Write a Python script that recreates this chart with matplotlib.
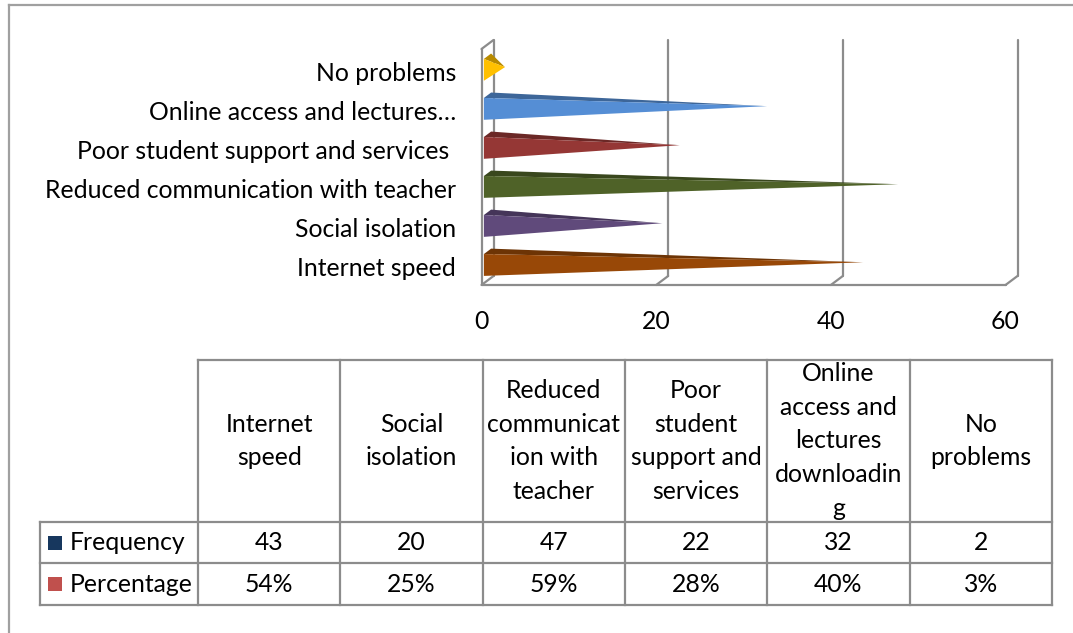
import matplotlib.pyplot as plt
import matplotlib.colors as mcolors
from matplotlib.patches import Polygon, Rectangle
from matplotlib.lines import Line2D

plt.rcParams['font.family'] = ['Lato', 'DejaVu Sans']

# survey data
categories = ['Internet speed', 'Social isolation', 'Reduced communication with teacher',
              'Poor student support and services ', 'Online access and lectures…', 'No problems']
header_labels = ['Internet\nspeed', 'Social\nisolation', 'Reduced\ncommunicat\nion with\nteacher',
                 'Poor\nstudent\nsupport and\nservices', 'Online\naccess and\nlectures\ndownloadin\ng',
                 'No\nproblems']
frequency = [43, 20, 47, 22, 32, 2]
percentage = [54, 25, 59, 28, 40, 3]
bar_colors = ['#984807', '#604A7B', '#4F6228', '#953735', '#558ED5', '#FFC000']
series_names = ['Frequency', 'Percentage']
series_colors = ['#17375E', '#C0504D']
x_ticks = [0, 20, 40, 60]

W, H = 1073, 633
FS = 17.8
GRID = '#8c8c8c'

fig = plt.figure(figsize=(W / 100, H / 100), dpi=100)

# --- pseudo-3D pyramid bar chart ---
ax = fig.add_axes([481.5 / W, (H - 285) / H, 524 / W, 236 / H])
xmax = x_ticks[-1]
y_floor, y_top = -0.467, 5.58
ax.set_xlim(0, xmax)
ax.set_ylim(y_floor, y_top)
ax.set_facecolor('none')
for s in ax.spines.values():
    s.set_visible(False)

dx = 12 / (524 / xmax)  # depth offset in value units
dy = 9 / 39             # depth offset in category units


def proj(x, y, z):
    return (x + z * dx, y + z * dy)


wall = dict(color=GRID, lw=1.6, solid_capstyle='round', clip_on=False, zorder=1)
ax.plot([0, xmax], [y_floor, y_floor], **wall)
ax.plot([0, 0], [y_floor, y_top], **wall)
ax.plot([0, dx], [y_top, y_top + dy], **wall)
for v in x_ticks:
    ax.plot([v, v + dx], [y_floor, y_floor + dy], **wall)
    ax.plot([v + dx, v + dx], [y_floor + dy, y_top + dy], **wall)

h, z0, z1 = 0.28, 0.2, 0.8
zm = (z0 + z1) / 2
for i, (v, c) in enumerate(zip(frequency, bar_colors)):
    dark = [k * 0.72 for k in mcolors.to_rgb(c)]
    top = [proj(0, i + h, z0), proj(0, i + h, z1), proj(v, i, zm)]
    front = [proj(0, i - h, z0), proj(0, i + h, z0), proj(v, i, zm)]
    ax.add_patch(Polygon(top, closed=True, facecolor=dark, edgecolor='none', zorder=3, clip_on=False))
    ax.add_patch(Polygon(front, closed=True, facecolor=c, edgecolor='none', zorder=4, clip_on=False))

ax.set_yticks(range(len(categories)))
ax.set_yticklabels(categories, fontsize=FS)
ax.set_xticks(x_ticks)
ax.set_xticklabels([str(t) for t in x_ticks], fontsize=FS)
ax.tick_params(axis='y', length=0, pad=18.4)
ax.tick_params(axis='x', length=0, pad=18)

# --- data table ---
tax = fig.add_axes([40 / W, (H - 605) / H, 1012 / W, 245 / H])
tw, th = 1012, 245
tax.set_xlim(0, tw)
tax.set_ylim(th, 0)
tax.axis('off')

label_w = 158
col_w = (tw - label_w) / len(categories)
col_edges = [label_w + k * col_w for k in range(len(categories) + 1)]
row_edges = [0, 162, 203, 245]

line = dict(color=GRID, lw=1.6, clip_on=False)
tax.plot([label_w, tw], [0, 0], **line)
for r in row_edges[1:]:
    tax.plot([0, tw], [r, r], **line)
tax.plot([0, 0], [row_edges[1], th], **line)
for e in col_edges:
    tax.plot([e, e], [0, th], **line)

hdr_y = (row_edges[0] + row_edges[1]) / 2
for k, lab in enumerate(header_labels):
    cx = (col_edges[k] + col_edges[k + 1]) / 2
    tax.text(cx, hdr_y, lab, ha='center', va='center', fontsize=FS, linespacing=1.57)

rows = [[str(v) for v in frequency], [f'{v}%' for v in percentage]]
for r, (name, color, vals) in enumerate(zip(series_names, series_colors, rows)):
    cy = (row_edges[r + 1] + row_edges[r + 2]) / 2
    tax.add_patch(Rectangle((8, cy - 7), 14, 14, facecolor=color, edgecolor='none'))
    tax.text(30, cy, name, ha='left', va='center', fontsize=FS)
    for k, val in enumerate(vals):
        cx = (col_edges[k] + col_edges[k + 1]) / 2
        tax.text(cx, cy, val, ha='center', va='center', fontsize=FS)

# chart area border
fig.add_artist(Line2D([9 / W, 1], [(H - 5) / H] * 2, color='#a0a0a0', lw=1.6))
fig.add_artist(Line2D([9 / W] * 2, [0, (H - 5) / H], color='#a0a0a0', lw=1.6))

fig.savefig('out.png', dpi=100)
